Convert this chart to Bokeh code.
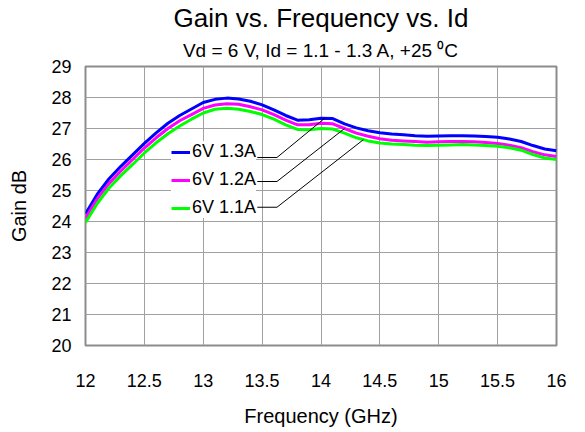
import numpy as np
from bokeh.plotting import figure
from bokeh.models import (Title, Legend, LegendItem, FixedTicker, Range1d)
from bokeh.embed import file_html
from bokeh.resources import INLINE

# ---------------- data ----------------
freq_ghz = [12.0, 12.1, 12.2, 12.3, 12.4, 12.5, 12.6, 12.7, 12.8, 12.9,
            13.0, 13.1, 13.2, 13.3, 13.4, 13.5, 13.6, 13.7, 13.8, 13.9,
            14.0, 14.1, 14.2, 14.3, 14.4, 14.5, 14.6, 14.7, 14.8, 14.9,
            15.0, 15.1, 15.2, 15.3, 15.4, 15.5, 15.6, 15.7, 15.8, 15.9, 16.0]

gain_13a = [24.25, 24.88, 25.38, 25.78, 26.15, 26.52, 26.86, 27.17, 27.42, 27.63,
            27.84, 27.94, 27.98, 27.95, 27.88, 27.76, 27.60, 27.42, 27.27, 27.28,
            27.33, 27.32, 27.15, 27.02, 26.93, 26.86, 26.82, 26.80, 26.77, 26.75,
            26.76, 26.77, 26.77, 26.76, 26.74, 26.72, 26.66, 26.58, 26.45, 26.34, 26.28]

gain_12a = [24.10, 24.73, 25.23, 25.63, 26.00, 26.37, 26.70, 27.00, 27.25, 27.45,
            27.65, 27.76, 27.80, 27.78, 27.70, 27.60, 27.45, 27.27, 27.12, 27.12,
            27.17, 27.15, 27.00, 26.85, 26.75, 26.67, 26.62, 26.60, 26.58, 26.56,
            26.57, 26.58, 26.58, 26.57, 26.55, 26.52, 26.46, 26.38, 26.25, 26.15, 26.10]

gain_11a = [23.97, 24.58, 25.08, 25.48, 25.84, 26.21, 26.54, 26.83, 27.08, 27.30,
            27.50, 27.62, 27.65, 27.62, 27.55, 27.45, 27.30, 27.12, 26.97, 26.96,
            27.00, 26.98, 26.85, 26.70, 26.60, 26.53, 26.50, 26.48, 26.46, 26.45,
            26.46, 26.47, 26.48, 26.47, 26.45, 26.43, 26.38, 26.30, 26.16, 26.05, 26.00]

series_names = ["6V 1.3A", "6V 1.2A", "6V 1.1A"]
series_colors = ["#0000FF", "#FF00FF", "#00FF00"]

x_ticks = [12, 12.5, 13, 13.5, 14, 14.5, 15, 15.5, 16]
x_tick_labels = ["12", "12.5", "13", "13.5", "14", "14.5", "15", "15.5", "16"]
y_ticks = [20, 21, 22, 23, 24, 25, 26, 27, 28, 29]

title_text = "Gain vs. Frequency vs. Id"
subtitle_text = "Vd = 6 V, Id = 1.1 - 1.3 A, +25 \u2070C"

# leader lines: frequency on each curve where the callout arrow ends
leader_freqs = [14.03, 14.20, 14.36]

FONT = "Liberation Sans"

# ---------------- figure ----------------
p = figure(frame_width=471, frame_height=279,
           min_border_left=85, min_border_right=14,
           min_border_top=60, min_border_bottom=77,
           x_range=Range1d(12, 16), y_range=Range1d(20, 29),
           output_backend="svg", toolbar_location=None,
           background_fill_color="white", border_fill_color="white")

p.add_layout(Title(text=subtitle_text, align="center", text_font=FONT,
                   text_font_size="19px", text_font_style="normal",
                   text_color="#000000", standoff=11), "above")
p.add_layout(Title(text=title_text, align="center", text_font=FONT,
                   text_font_size="26px", text_font_style="normal",
                   text_color="#000000", standoff=0), "above")

p.outline_line_color = "#8C8C8C"
p.outline_line_width = 2

p.xaxis.ticker = FixedTicker(ticks=x_ticks)
p.xaxis.major_label_overrides = {t: l for t, l in zip(x_ticks, x_tick_labels)}
p.yaxis.ticker = FixedTicker(ticks=y_ticks)

for ax in (p.xaxis[0], p.yaxis[0]):
    ax.axis_line_color = None
    ax.major_tick_line_color = None
    ax.minor_tick_line_color = None
    ax.major_tick_out = 0
    ax.major_tick_in = 0
    ax.major_label_text_font = FONT
    ax.major_label_text_font_size = "18px"
    ax.major_label_text_color = "#000000"
    ax.axis_label_text_font = FONT
    ax.axis_label_text_font_size = "20px"
    ax.axis_label_text_font_style = "normal"
    ax.axis_label_text_color = "#000000"

p.xaxis.axis_label = "Frequency (GHz)"
p.yaxis.axis_label = "Gain dB"
p.xaxis.major_label_standoff = 28
p.yaxis.major_label_standoff = 14
p.xaxis.axis_label_standoff = 15
p.yaxis.axis_label_standoff = 18

p.xgrid.ticker = FixedTicker(ticks=x_ticks)
p.ygrid.ticker = FixedTicker(ticks=y_ticks)
p.grid.grid_line_color = "#A0A0A0"
p.grid.grid_line_width = 1

renderers = []
for g, c in zip([gain_13a, gain_12a, gain_11a], series_colors):
    r = p.line(freq_ghz, g, line_color=c, line_width=3)
    renderers.append(r)

# callout leader lines (elbow + diagonal to each curve)
leader_x0 = 13.459
leader_x1 = 13.626
leader_y = [26.065, 25.29, 24.46]
for f, g, ly in zip(leader_freqs, [gain_13a, gain_12a, gain_11a], leader_y):
    gy = float(np.interp(f, freq_ghz, g))
    p.line([leader_x0, leader_x1, f], [ly, ly, gy], line_color="#000000", line_width=1)

legend = Legend(items=[LegendItem(label=n, renderers=[r]) for n, r in zip(series_names, renderers)],
                location=(86, 127), orientation="vertical",
                background_fill_color="white", background_fill_alpha=1.0,
                border_line_color=None, padding=5, margin=0, spacing=7,
                glyph_width=19, glyph_height=20, label_height=20,
                label_standoff=2, label_text_font=FONT,
                label_text_font_size="18px", label_text_color="#000000")
p.add_layout(legend, "center")

open("out.html", "w").write(file_html(p, INLINE))
